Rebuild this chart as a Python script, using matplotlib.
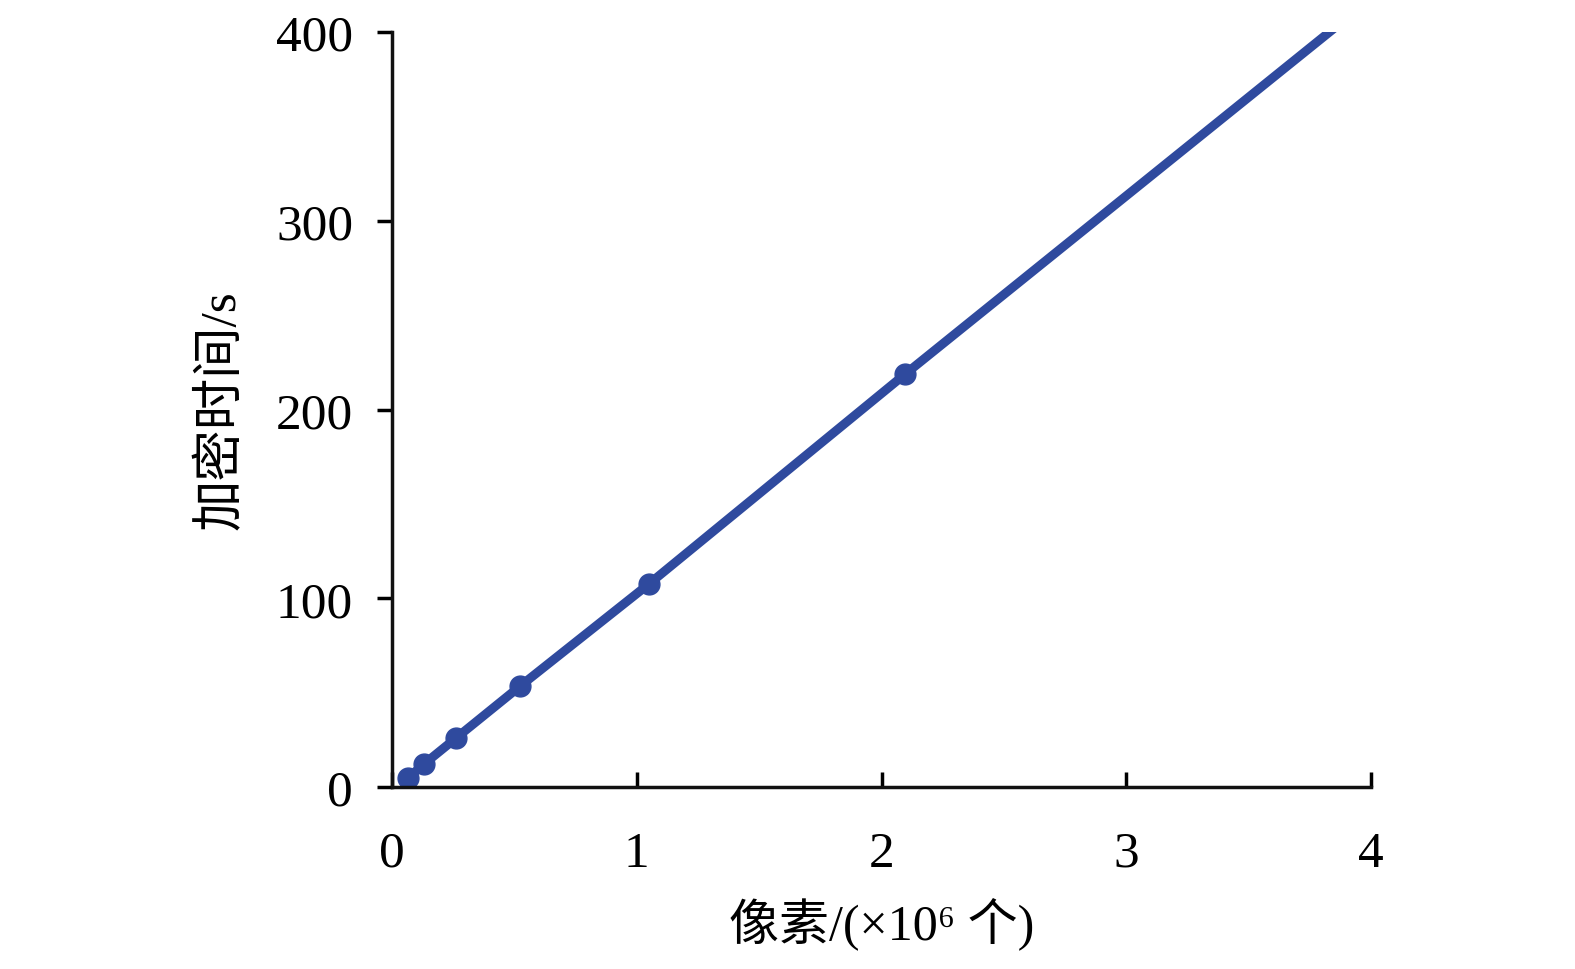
import matplotlib
matplotlib.use('Agg')
import matplotlib.pyplot as plt

# pixel counts (millions) and encryption time (s)
pixels = [0.0655, 0.131, 0.262, 0.524, 1.049, 2.097, 4.194]
times = [4.8, 12.2, 26.0, 53.5, 107.5, 218.8, 438.0]

x_ticks = [0, 1, 2, 3, 4]
y_ticks = [0, 100, 200, 300, 400]

plt.rcParams['font.family'] = ['Liberation Serif', 'Noto Sans CJK SC']

fig = plt.figure(figsize=(15.75, 9.7), dpi=100)
ax = fig.add_axes([0.2489, 0.1876, 0.6216, 0.7784])

ax.plot(pixels, times, color='#2f4a9e', lw=6.5, marker='o', ms=15, clip_on=True)

ax.set_xlim(0, 4)
ax.set_ylim(0, 400)
ax.set_xticks(x_ticks)
ax.set_yticks(y_ticks)

for s in ['top', 'right']:
    ax.spines[s].set_visible(False)
for s in ['left', 'bottom']:
    ax.spines[s].set_linewidth(2.5)
    ax.spines[s].set_color('#111111')

ax.tick_params(axis='x', direction='in', length=11, width=2.5, labelsize=37, pad=31)
ax.tick_params(axis='y', direction='out', length=11, width=2.5, labelsize=37, pad=17)

ax.set_xlabel('像素/(×10⁶ 个)', fontsize=36, labelpad=14)
ax.set_ylabel('加密时间/s', fontsize=37, labelpad=22)

fig.savefig('out.png', dpi=100)
